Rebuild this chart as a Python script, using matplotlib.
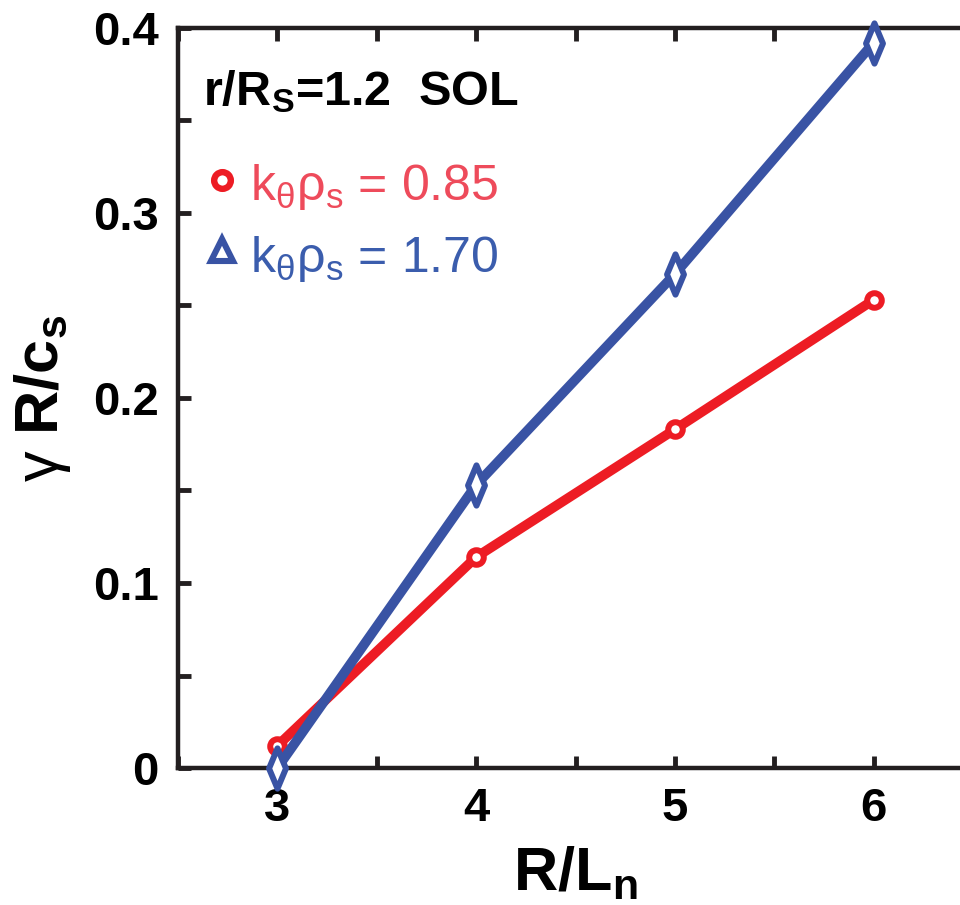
import matplotlib
matplotlib.use("Agg")
import matplotlib.pyplot as plt
from matplotlib.ticker import MultipleLocator
from matplotlib.path import Path

# Data
x_vals = [3, 4, 5, 6]
gamma_k085 = [0.012, 0.114, 0.183, 0.253]
gamma_k170 = [0.0, 0.153, 0.267, 0.392]
legend_labels = [r"k$_\theta\rho_s$ = 0.85", r"k$_\theta\rho_s$ = 1.70"]
title_text = r"r/R$_\mathbf{S}$=1.2  SOL"

plt.rcParams['font.family'] = ['Liberation Sans', 'DejaVu Sans']
plt.rcParams['mathtext.fontset'] = 'custom'
plt.rcParams['mathtext.rm'] = 'Liberation Sans'
plt.rcParams['mathtext.it'] = 'Liberation Sans'
plt.rcParams['mathtext.bf'] = 'Liberation Sans:bold'
plt.rcParams['mathtext.default'] = 'regular'

RED = '#ED1C24'
BLUE = '#3953A4'
RED_T = '#EE4B5B'
BLUE_T = '#3B5DAD'

thin_diamond = Path([(0, 1), (0.42, 0), (0, -1), (-0.42, 0), (0, 1)],
                    [Path.MOVETO, Path.LINETO, Path.LINETO, Path.LINETO, Path.CLOSEPOLY])

fig = plt.figure(figsize=(9.6, 9.05), dpi=100)
ax = fig.add_axes([178/960, (905-768)/905, (973-178)/960, (768-28)/905])

ax.plot(x_vals, gamma_k085, color=RED, lw=7, marker='o', ms=10.5,
        mfc='white', mec=RED, mew=4.3, clip_on=False, zorder=3)
ax.plot(x_vals, gamma_k170, color=BLUE, lw=7, marker=thin_diamond, ms=29,
        mfc='white', mec=BLUE, mew=4.3, clip_on=False, zorder=4)

ax.set_xlim(2.5, 6.5)
ax.set_ylim(0, 0.4)
ax.xaxis.set_major_locator(MultipleLocator(1))
ax.xaxis.set_minor_locator(MultipleLocator(0.5))
ax.yaxis.set_major_locator(MultipleLocator(0.1))
ax.yaxis.set_minor_locator(MultipleLocator(0.05))
ax.tick_params(which='both', direction='in', top=True, right=True,
               length=9, width=3.5, color='#231F20')
ax.tick_params(axis='both', labelsize=34, pad=14)
ax.set_yticks([0, 0.1, 0.2, 0.3, 0.4])
ax.set_yticklabels(['0', '0.1', '0.2', '0.3', '0.4'], fontweight='bold', fontsize=34)
ax.set_xticks([3, 4, 5, 6])
ax.set_xticklabels(['3', '4', '5', '6'], fontweight='bold', fontsize=34)
for s in ax.spines.values():
    s.set_linewidth(3.2)
    s.set_color('#231F20')

ax.set_xlabel(r"R/L$_\mathbf{n}$", fontsize=44, fontweight='bold', labelpad=10)
ax.set_ylabel(r"$\mathrm{\gamma}$ R/c$_\mathbf{s}$", fontsize=44, fontweight='bold', labelpad=14)

fig.text(203/960, 1 - 105/905, title_text, fontsize=35, fontweight='bold', color='black')

# legend markers and text
fig.lines.append(plt.Line2D([222/960], [1 - 180/905], transform=fig.transFigure,
                            marker='o', ms=12, mfc='white', mec=RED, mew=4.6, ls='none'))
fig.lines.append(plt.Line2D([222/960], [1 - 250/905], transform=fig.transFigure,
                            marker='^', ms=16, mfc='white', mec=BLUE, mew=4.4, ls='none'))
fig.text(250/960, 1 - 200/905, legend_labels[0], fontsize=36, color=RED_T)
fig.text(250/960, 1 - 272/905, legend_labels[1], fontsize=36, color=BLUE_T)

fig.savefig('out.png', dpi=100)
